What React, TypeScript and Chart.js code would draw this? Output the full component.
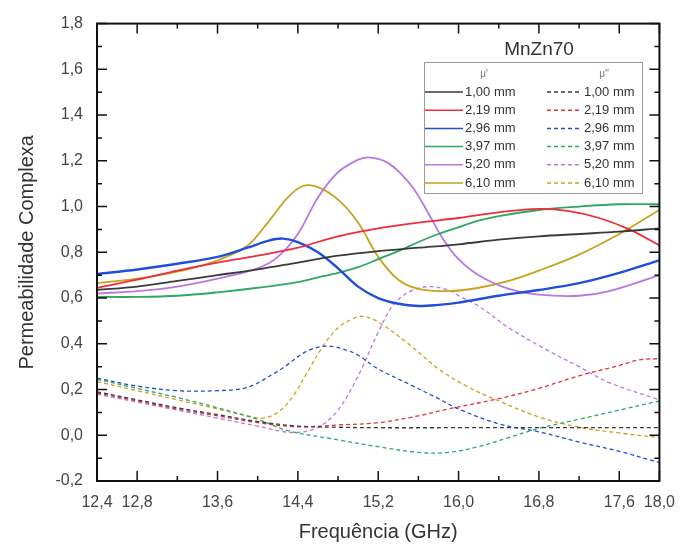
import React, { useEffect, useRef } from 'react';
import { Chart, registerables } from 'chart.js';

Chart.register(...registerables);

// ---------- labels ----------
const legendTitle = 'MnZn70';
const thicknessLabels = ['1,00 mm', '2,19 mm', '2,96 mm', '3,97 mm', '5,20 mm', '6,10 mm'];
const realHeader = "\u03bc'";
const imagHeader = "\u03bc''";
const seriesColors = ['#3a3a3a', '#ee2c3c', '#1f4fd6', '#2fa860', '#b978e0', '#c9a21e'];

const xLabelTicks = [12.4, 12.8, 13.6, 14.4, 15.2, 16.0, 16.8, 17.6, 18.0];
const xMinorTicks = [13.2, 14.0, 14.8, 15.6, 16.4, 17.2];
const yLabelTicks = [-0.2, 0, 0.2, 0.4, 0.6, 0.8, 1.0, 1.2, 1.4, 1.6, 1.8];
const yMinorTicks = [-0.1, 0.1, 0.3, 0.5, 0.7, 0.9, 1.1, 1.3, 1.5, 1.7];

// ---------- mu' (solid) ----------
const fRe100 = [12.4, 12.8, 13.2, 13.6, 14.0, 14.4, 14.8, 15.2, 15.6, 16.0, 16.4, 16.8, 17.2, 17.6, 18.0];
const muRe100 = [0.635, 0.65, 0.675, 0.70, 0.725, 0.755, 0.785, 0.805, 0.82, 0.835, 0.855, 0.87, 0.88, 0.89, 0.905];

const fRe219 = [12.4, 12.8, 13.2, 13.6, 14.0, 14.4, 14.8, 15.2, 15.6, 16.0, 16.4, 16.8, 17.1, 17.4, 17.7, 18.0];
const muRe219 = [0.645, 0.68, 0.72, 0.755, 0.785, 0.82, 0.87, 0.905, 0.93, 0.95, 0.975, 0.99, 0.98, 0.95, 0.90, 0.83];

const fRe296 = [12.4, 12.8, 13.2, 13.6, 13.9, 14.1, 14.25, 14.4, 14.6, 14.8, 15.0, 15.2, 15.4, 15.6, 15.8, 16.0, 16.4, 16.8, 17.2, 17.6, 18.0];
const muRe296 = [0.705, 0.725, 0.75, 0.78, 0.82, 0.85, 0.86, 0.845, 0.80, 0.73, 0.65, 0.60, 0.575, 0.565, 0.57, 0.58, 0.61, 0.635, 0.665, 0.71, 0.765];

const fRe397 = [12.4, 12.8, 13.2, 13.6, 14.0, 14.4, 14.6, 14.8, 15.0, 15.2, 15.4, 15.6, 15.8, 16.0, 16.2, 16.4, 16.8, 17.2, 17.6, 18.0];
const muRe397 = [0.605, 0.605, 0.61, 0.625, 0.645, 0.67, 0.69, 0.71, 0.735, 0.77, 0.805, 0.845, 0.88, 0.91, 0.938, 0.958, 0.985, 1.0, 1.01, 1.01];

const fRe520 = [12.4, 12.8, 13.2, 13.6, 14.0, 14.2, 14.4, 14.6, 14.8, 15.0, 15.1, 15.2, 15.3, 15.4, 15.55, 15.7, 15.85, 16.0, 16.2, 16.5, 16.8, 17.2, 17.5, 18.0];
const muRe520 = [0.62, 0.63, 0.65, 0.685, 0.73, 0.78, 0.88, 1.04, 1.15, 1.205, 1.215, 1.208, 1.19, 1.155, 1.08, 0.97, 0.855, 0.77, 0.70, 0.64, 0.615, 0.61, 0.63, 0.70];

const fRe610 = [12.4, 12.8, 13.2, 13.6, 13.9, 14.1, 14.3, 14.45, 14.6, 14.8, 15.0, 15.2, 15.4, 15.6, 15.9, 16.2, 16.5, 16.8, 17.2, 17.6, 18.0];
const muRe610 = [0.665, 0.685, 0.715, 0.765, 0.83, 0.93, 1.04, 1.09, 1.085, 1.03, 0.93, 0.78, 0.68, 0.64, 0.63, 0.645, 0.675, 0.72, 0.79, 0.88, 0.985];

// ---------- mu'' (dashed) ----------
const fIm100 = [12.4, 12.8, 13.2, 13.6, 14.0, 14.4, 14.8, 15.2, 16.0, 16.8, 17.6, 18.0];
const muIm100 = [0.19, 0.155, 0.12, 0.09, 0.06, 0.04, 0.035, 0.033, 0.033, 0.033, 0.033, 0.033];

const fIm219 = [12.4, 12.8, 13.2, 13.6, 14.0, 14.4, 14.8, 15.2, 15.6, 15.9, 16.4, 16.8, 17.2, 17.6, 17.8, 18.0];
const muIm219 = [0.185, 0.15, 0.115, 0.085, 0.055, 0.037, 0.045, 0.055, 0.085, 0.115, 0.16, 0.205, 0.26, 0.305, 0.33, 0.335];

const fIm296 = [12.4, 12.8, 13.2, 13.6, 13.9, 14.2, 14.3, 14.5, 14.7, 14.9, 15.0, 15.2, 15.5, 15.8, 16.0, 16.4, 16.8, 17.2, 17.6, 18.0];
const muIm296 = [0.25, 0.215, 0.195, 0.195, 0.21, 0.28, 0.31, 0.37, 0.39, 0.37, 0.35, 0.29, 0.225, 0.16, 0.115, 0.05, 0.015, -0.03, -0.07, -0.12];

const fIm397 = [12.4, 12.8, 13.2, 13.6, 14.0, 14.3, 14.8, 15.2, 15.6, 15.9, 16.2, 16.5, 16.8, 17.2, 17.6, 18.0];
const muIm397 = [0.245, 0.205, 0.165, 0.12, 0.07, 0.02, -0.02, -0.05, -0.075, -0.075, -0.05, -0.01, 0.03, 0.07, 0.11, 0.15];

const fIm520 = [12.4, 12.8, 13.2, 13.6, 14.0, 14.35, 14.6, 14.8, 15.0, 15.2, 15.35, 15.5, 15.7, 15.9, 16.0, 16.2, 16.5, 16.85, 17.2, 17.5, 18.0];
const muIm520 = [0.18, 0.145, 0.11, 0.075, 0.04, 0.012, 0.035, 0.11, 0.26, 0.45, 0.57, 0.625, 0.65, 0.635, 0.61, 0.565, 0.47, 0.38, 0.30, 0.23, 0.155];

const fIm610 = [12.4, 12.8, 13.2, 13.6, 13.9, 14.05, 14.2, 14.35, 14.5, 14.65, 14.8, 14.95, 15.05, 15.2, 15.5, 15.8, 16.1, 16.4, 16.8, 17.2, 17.6, 18.0];
const muIm610 = [0.235, 0.195, 0.155, 0.115, 0.085, 0.075, 0.10, 0.17, 0.28, 0.39, 0.47, 0.51, 0.52, 0.495, 0.40, 0.29, 0.21, 0.15, 0.08, 0.035, 0.01, -0.01];

const realSeries = [
  [fRe100, muRe100], [fRe219, muRe219], [fRe296, muRe296],
  [fRe397, muRe397], [fRe520, muRe520], [fRe610, muRe610],
];
const imagSeries = [
  [fIm100, muIm100], [fIm219, muIm219], [fIm296, muIm296],
  [fIm397, muIm397], [fIm520, muIm520], [fIm610, muIm610],
];

const FONT = "'Liberation Sans', Arial, sans-serif";
const fmt = (v: number) => Number(v).toFixed(1).replace('.', ',');

const framePlugin = {
  id: 'framePlugin',
  afterDatasetsDraw(chart: any) {
    const { ctx, chartArea: a, scales } = chart;
    const xs = scales.x;
    const ys = scales.y;
    ctx.save();
    ctx.strokeStyle = '#111';
    ctx.lineWidth = 1.5;
    ctx.beginPath();
    const xt = (vals: number[], len: number) => {
      for (const v of vals) {
        const px = xs.getPixelForValue(v);
        ctx.moveTo(px, a.bottom); ctx.lineTo(px, a.bottom - len);
        ctx.moveTo(px, a.top); ctx.lineTo(px, a.top + len);
      }
    };
    const yt = (vals: number[], len: number) => {
      for (const v of vals) {
        const py = ys.getPixelForValue(v);
        ctx.moveTo(a.left, py); ctx.lineTo(a.left + len, py);
        ctx.moveTo(a.right, py); ctx.lineTo(a.right - len, py);
      }
    };
    xt(xLabelTicks, 10);
    xt(xMinorTicks, 5);
    yt(yLabelTicks, 10);
    yt(yMinorTicks, 5);
    ctx.stroke();
    ctx.lineWidth = 2;
    ctx.strokeRect(a.left, a.top, a.right - a.left, a.bottom - a.top);

    // legend
    const bx = 424.5, by = 62.5, bw = 218, bh = 131;
    ctx.fillStyle = '#ffffff';
    ctx.fillRect(bx, by, bw, bh);
    ctx.strokeStyle = '#999';
    ctx.lineWidth = 1;
    ctx.strokeRect(bx, by, bw, bh);

    ctx.fillStyle = '#333';
    ctx.font = `19px ${FONT}`;
    ctx.textAlign = 'center';
    ctx.textBaseline = 'middle';
    ctx.fillText(legendTitle, 539, 50);

    ctx.fillStyle = '#777';
    ctx.font = `10px ${FONT}`;
    ctx.fillText(realHeader, 484, 74);
    ctx.fillText(imagHeader, 604, 74);

    ctx.font = `13px ${FONT}`;
    ctx.textAlign = 'left';
    thicknessLabels.forEach((lab, i) => {
      const yy = 92 + i * 18.2;
      ctx.strokeStyle = seriesColors[i];
      ctx.lineWidth = 1.5;
      ctx.setLineDash([]);
      ctx.beginPath();
      ctx.moveTo(425, yy); ctx.lineTo(463, yy);
      ctx.stroke();
      ctx.setLineDash([4, 3]);
      ctx.beginPath();
      ctx.moveTo(547, yy); ctx.lineTo(582, yy);
      ctx.stroke();
      ctx.setLineDash([]);
      ctx.fillStyle = '#333';
      ctx.fillText(lab, 465, yy);
      ctx.fillText(lab, 584, yy);
    });
    ctx.restore();
  },
};

export default function App() {
  const canvasRef = useRef<HTMLCanvasElement | null>(null);

  useEffect(() => {
    if (!canvasRef.current) return;
    const datasets: any[] = [];
    realSeries.forEach(([fx, vy], i) => {
      datasets.push({
        label: "\u03bc' " + thicknessLabels[i],
        data: fx.map((f, k) => ({ x: f, y: vy[k] })),
        borderColor: seriesColors[i],
        borderWidth: i === 2 ? 2.4 : 1.8,
        pointRadius: 0,
        fill: false,
        tension: 0.35,
      });
    });
    imagSeries.forEach(([fx, vy], i) => {
      datasets.push({
        label: "\u03bc'' " + thicknessLabels[i],
        data: fx.map((f, k) => ({ x: f, y: vy[k] })),
        borderColor: seriesColors[i],
        borderWidth: 1.3,
        borderDash: [4, 3],
        pointRadius: 0,
        fill: false,
        tension: 0.35,
      });
    });

    const chart = new Chart(canvasRef.current, {
      type: 'line',
      data: { datasets },
      options: {
        animation: false,
        responsive: false,
        layout: { padding: { top: 21, right: 21, left: 0, bottom: 0 } },
        plugins: { legend: { display: false }, tooltip: { enabled: false } },
        scales: {
          x: {
            type: 'linear',
            min: 12.4,
            max: 18.0,
            grid: { display: false, drawTicks: false },
            border: { display: false },
            afterBuildTicks: (s: any) => { s.ticks = xLabelTicks.map((v) => ({ value: v })); },
            afterFit: (s: any) => { s.height = 66; },
            ticks: {
              autoSkip: false,
              maxRotation: 0,
              padding: 12,
              color: '#444',
              font: { family: FONT, size: 16 },
              callback: (v: any) => fmt(v),
            },
            title: {
              display: true,
              text: 'Frequência (GHz)',
              color: '#333',
              font: { family: FONT, size: 20 },
              padding: { top: 0, bottom: 3 },
            },
          },
          y: {
            type: 'linear',
            min: -0.2,
            max: 1.8,
            grid: { display: false, drawTicks: false },
            border: { display: false },
            afterBuildTicks: (s: any) => { s.ticks = yLabelTicks.map((v) => ({ value: v })); },
            afterFit: (s: any) => { s.width = 97; },
            ticks: {
              autoSkip: false,
              padding: 14,
              color: '#444',
              font: { family: FONT, size: 16 },
              callback: (v: any) => fmt(v),
            },
            title: {
              display: true,
              text: 'Permeabilidade Complexa',
              color: '#333',
              font: { family: FONT, size: 20 },
              padding: { top: 15, bottom: 0 },
            },
          },
        },
      },
      plugins: [framePlugin],
    } as any);
    return () => chart.destroy();
  }, []);

  return (
    <div style={{ position: 'fixed', left: 0, top: 0, width: 687, height: 547, background: '#fff' }}>
      <canvas ref={canvasRef} width={687} height={547} style={{ display: 'block' }} />
    </div>
  );
}
